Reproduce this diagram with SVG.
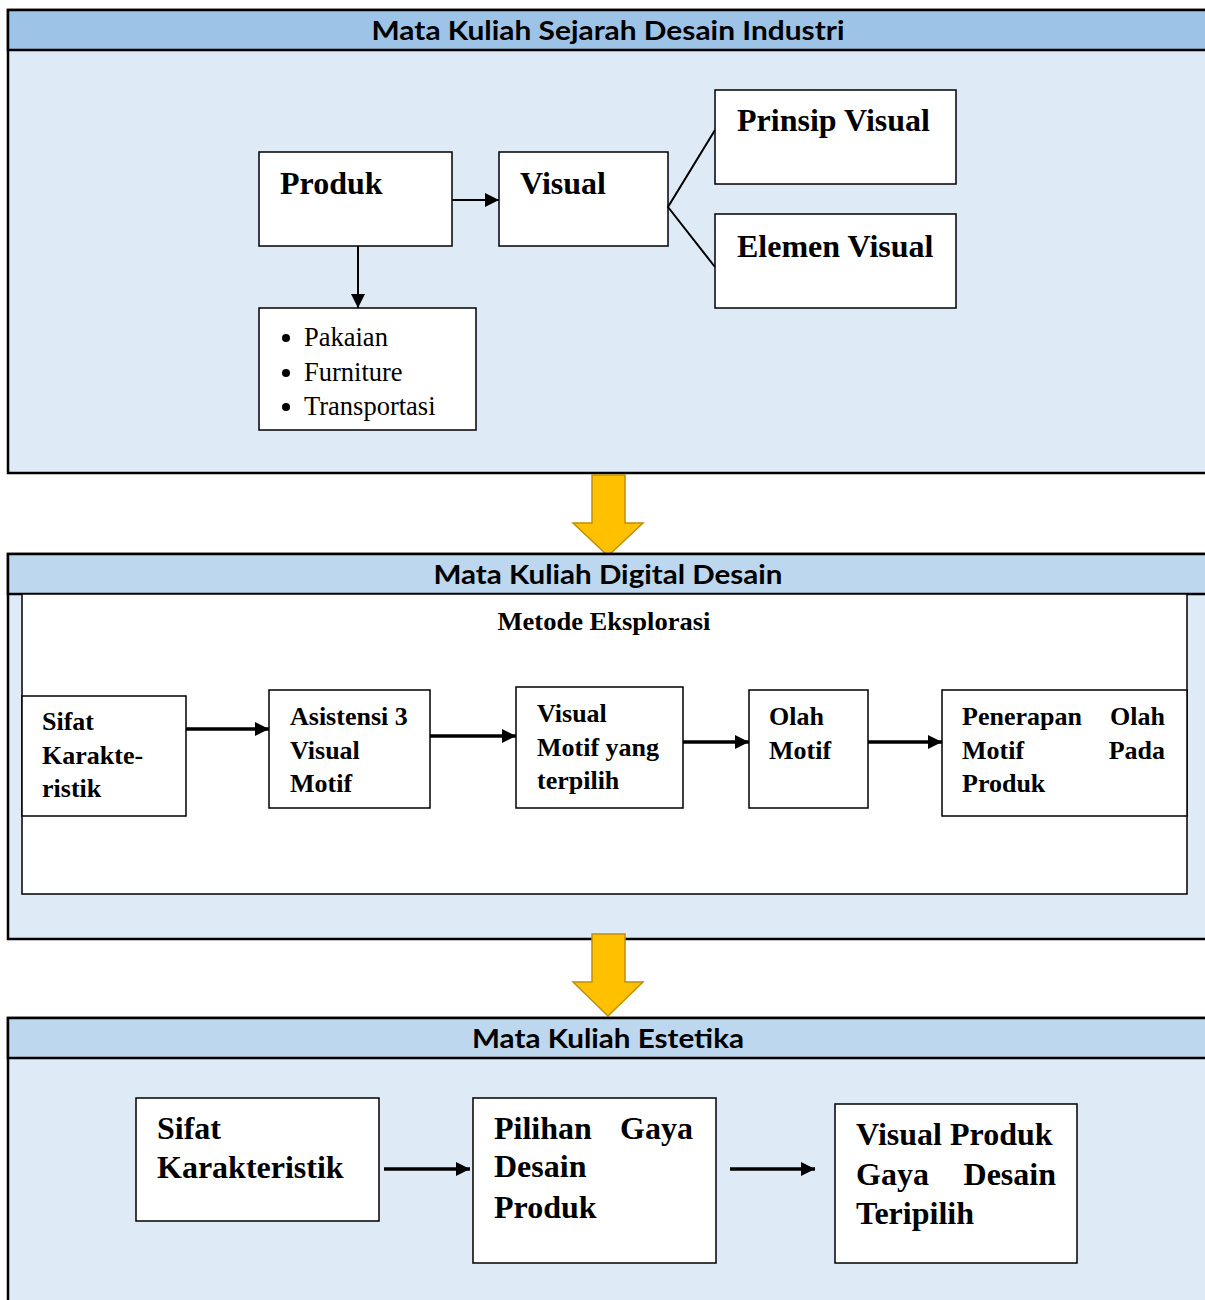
<svg xmlns="http://www.w3.org/2000/svg" width="1205" height="1300" viewBox="0 0 1205 1300">
<style>
.panel{fill:#DEEAF6;stroke:#000;stroke-width:2.5}
.hdr1{fill:#9DC3E6;stroke:#000;stroke-width:2.5}
.hdr2{fill:#BDD7EE;stroke:#000;stroke-width:2.5}
.htxt{font-family:Lato,"Open Sans",sans-serif;font-weight:bold;font-size:26px;fill:#000;text-anchor:middle}
.box{fill:#fff;stroke:#000;stroke-width:1.5}
.t1{font-family:"Liberation Serif","Times New Roman",serif;font-weight:bold;font-size:32px;fill:#000}
.t2{font-family:"Liberation Serif","Times New Roman",serif;font-weight:bold;font-size:26px;fill:#000}
.t3{font-family:"Liberation Serif","Times New Roman",serif;font-weight:bold;font-size:32px;fill:#000}
.bul{font-family:"Liberation Serif","Times New Roman",serif;font-size:26.5px;fill:#000}
.ln{stroke:#000;stroke-width:2;fill:none}
.ln3{stroke:#000;stroke-width:3.5;fill:none}
.yarrow{fill:#FFC000;stroke:#BF9000;stroke-width:1.5}
</style>
<defs>
<marker id="ah" viewBox="0 0 10 10" refX="10" refY="5" markerWidth="7" markerHeight="7" orient="auto" markerUnits="strokeWidth">
<path d="M0,0 L10,5 L0,10 z" fill="#000"/>
</marker>
<marker id="ah3" viewBox="0 0 10 10" refX="10" refY="5" markerWidth="4" markerHeight="4" orient="auto" markerUnits="strokeWidth">
<path d="M0,0 L10,5 L0,10 z" fill="#000"/>
</marker>
</defs>

<!-- Section 1 -->
<g id="section1">
<rect class="panel" x="8" y="10" width="1210" height="463"/>
<rect class="hdr1" x="8" y="10" width="1210" height="40"/>
<text class="htxt" x="608" y="40" textLength="473" lengthAdjust="spacingAndGlyphs">Mata Kuliah Sejarah Desain Industri</text>
</g>
<g id="produk"><rect class="box" x="259" y="152" width="193" height="94"/><text class="t1" x="280" y="194">Produk</text></g>
<g id="visual"><rect class="box" x="499" y="152" width="169" height="94"/><text class="t1" x="520" y="194">Visual</text></g>
<g id="prinsip"><rect class="box" x="715" y="90" width="241" height="94"/><text class="t1" x="737" y="131">Prinsip Visual</text></g>
<g id="elemen"><rect class="box" x="715" y="214" width="241" height="94"/><text class="t1" x="737" y="257">Elemen Visual</text></g>
<g id="list"><rect class="box" x="259" y="308" width="217" height="122"/>
<circle cx="286" cy="338" r="4"/><text class="bul" x="304" y="346">Pakaian</text>
<circle cx="286" cy="373" r="4"/><text class="bul" x="304" y="381">Furniture</text>
<circle cx="286" cy="407" r="4"/><text class="bul" x="304" y="415">Transportasi</text>
</g>

<!-- Yellow arrows -->
<g id="bigarrow1"><path class="yarrow" d="M592,475 L625,475 L625,523 L643,523 L608,556 L573,523 L592,523 z"/></g>

<!-- Section 2 -->
<g id="section2">
<rect class="panel" x="8" y="554" width="1210" height="385"/>
<rect class="hdr2" x="8" y="554" width="1210" height="40"/>
<text class="htxt" x="608" y="584" textLength="349" lengthAdjust="spacingAndGlyphs">Mata Kuliah Digital Desain</text>
<rect x="22" y="594" width="1165" height="300" fill="#fff" stroke="#000" stroke-width="1.5"/>
<text class="t2" x="604" y="630" text-anchor="middle" font-size="24" textLength="213" lengthAdjust="spacingAndGlyphs">Metode Eksplorasi</text>
</g>
<g id="sifat2"><rect class="box" x="22" y="696" width="164" height="120"/>
<text class="t2" x="42" y="730">Sifat</text><text class="t2" x="42" y="764">Karakte-</text><text class="t2" x="42" y="797">ristik</text></g>
<g id="asistensi"><rect class="box" x="269" y="690" width="161" height="118"/>
<text class="t2" x="290" y="725">Asistensi 3</text><text class="t2" x="290" y="759">Visual</text><text class="t2" x="290" y="792">Motif</text></g>
<g id="visualmotif"><rect class="box" x="516" y="687" width="167" height="121"/>
<text class="t2" x="537" y="722">Visual</text><text class="t2" x="537" y="756">Motif yang</text><text class="t2" x="537" y="789">terpilih</text></g>
<g id="olahmotif"><rect class="box" x="749" y="690" width="119" height="118"/>
<text class="t2" x="769" y="725">Olah</text><text class="t2" x="769" y="759">Motif</text></g>
<g id="penerapan"><rect class="box" x="942" y="690" width="245" height="126"/>
<text class="t2" x="962" y="725">Penerapan</text><text class="t2" x="1165" y="725" text-anchor="end">Olah</text>
<text class="t2" x="962" y="759">Motif</text><text class="t2" x="1165" y="759" text-anchor="end">Pada</text>
<text class="t2" x="962" y="792">Produk</text></g>

<g id="bigarrow2"><path class="yarrow" d="M592,934 L625,934 L625,982 L643,982 L608,1016 L573,982 L592,982 z"/></g>

<!-- Section 3 -->
<g id="section3">
<rect class="panel" x="8" y="1018" width="1210" height="300"/>
<rect class="hdr2" x="8" y="1018" width="1210" height="40"/>
<text class="htxt" x="608" y="1048" textLength="272" lengthAdjust="spacingAndGlyphs">Mata Kuliah Estetika</text>
</g>
<g id="sifat3"><rect class="box" x="136" y="1098" width="243" height="123"/>
<text class="t3" x="157" y="1139">Sifat</text><text class="t3" x="157" y="1178">Karakteristik</text></g>
<g id="pilihan"><rect class="box" x="473" y="1098" width="243" height="165"/>
<text class="t3" x="494" y="1139">Pilihan</text><text class="t3" x="693" y="1139" text-anchor="end">Gaya</text>
<text class="t3" x="494" y="1177">Desain</text><text class="t3" x="494" y="1218">Produk</text></g>
<g id="visualproduk"><rect class="box" x="835" y="1104" width="242" height="159"/>
<text class="t3" x="856" y="1145">Visual Produk</text>
<text class="t3" x="856" y="1185">Gaya</text><text class="t3" x="1056" y="1185" text-anchor="end">Desain</text>
<text class="t3" x="856" y="1224">Teripilih</text></g>

<!-- Connectors -->
<g id="connectors">
<line class="ln" x1="452" y1="200" x2="499" y2="200" marker-end="url(#ah)"/>
<line class="ln" x1="358" y1="246" x2="358" y2="308" marker-end="url(#ah)"/>
<polyline class="ln" points="715,130 668,207 715,267"/>
<line class="ln3" x1="186" y1="729" x2="269" y2="729" marker-end="url(#ah3)"/>
<line class="ln3" x1="430" y1="736" x2="516" y2="736" marker-end="url(#ah3)"/>
<line class="ln3" x1="683" y1="742" x2="749" y2="742" marker-end="url(#ah3)"/>
<line class="ln3" x1="868" y1="742" x2="942" y2="742" marker-end="url(#ah3)"/>
<line class="ln3" x1="384" y1="1169" x2="470" y2="1169" marker-end="url(#ah3)"/>
<line class="ln3" x1="730" y1="1169" x2="815" y2="1169" marker-end="url(#ah3)"/>
</g>
</svg>
